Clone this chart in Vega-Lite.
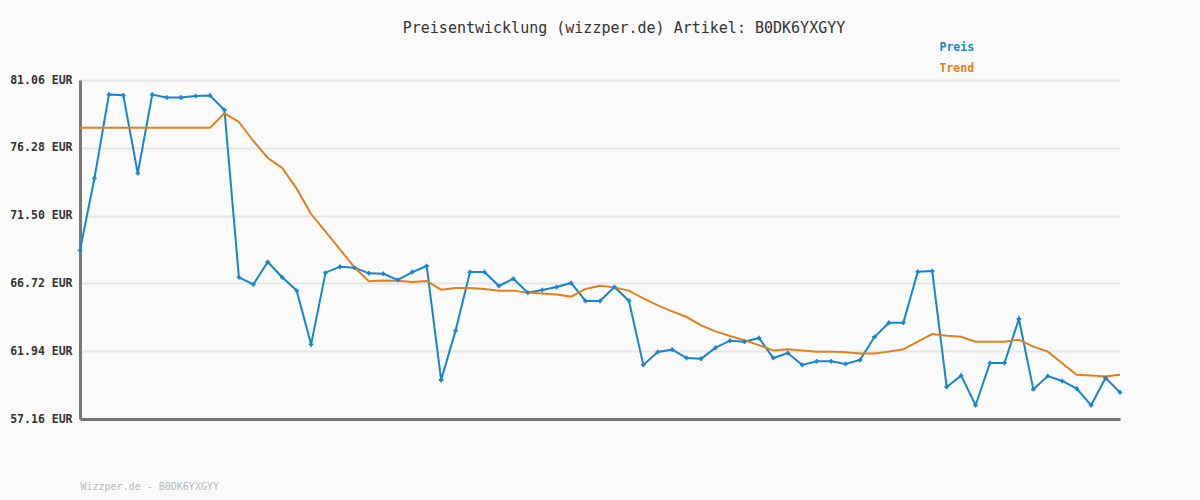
{
  "$schema": "https://vega.github.io/schema/vega-lite/v6.json",
  "width": 1040,
  "height": 339,
  "autosize": {"type": "none"},
  "padding": {"left": 80, "top": 80, "right": 80, "bottom": 81},
  "background": "#fafafa",
  "config": {"view": {"stroke": null}, "font": "DejaVu Sans Mono"},
  "title": {"text": "Preisentwicklung (wizzper.de) Artikel: B0DK6YXGYY", "font": "DejaVu Sans Mono", "fontSize": 15, "fontWeight": "normal", "color": "#333333", "anchor": "middle", "dx": 24, "offset": 6},
  "data": {"values": [
    {"i": 0, "Preis": 69.05, "Trend": 77.70},
    {"i": 1, "Preis": 74.13, "Trend": 77.70},
    {"i": 2, "Preis": 80.03, "Trend": 77.70},
    {"i": 3, "Preis": 79.98, "Trend": 77.70},
    {"i": 4, "Preis": 74.48, "Trend": 77.70},
    {"i": 5, "Preis": 80.03, "Trend": 77.70},
    {"i": 6, "Preis": 79.82, "Trend": 77.70},
    {"i": 7, "Preis": 79.82, "Trend": 77.70},
    {"i": 8, "Preis": 79.93, "Trend": 77.70},
    {"i": 9, "Preis": 79.96, "Trend": 77.70},
    {"i": 10, "Preis": 78.95, "Trend": 78.71},
    {"i": 11, "Preis": 67.15, "Trend": 78.10},
    {"i": 12, "Preis": 66.65, "Trend": 76.76},
    {"i": 13, "Preis": 68.23, "Trend": 75.56},
    {"i": 14, "Preis": 67.15, "Trend": 74.86},
    {"i": 15, "Preis": 66.21, "Trend": 73.40},
    {"i": 16, "Preis": 62.42, "Trend": 71.61},
    {"i": 17, "Preis": 67.48, "Trend": 70.37},
    {"i": 18, "Preis": 67.90, "Trend": 69.12},
    {"i": 19, "Preis": 67.83, "Trend": 67.85},
    {"i": 20, "Preis": 67.43, "Trend": 66.87},
    {"i": 21, "Preis": 67.40, "Trend": 66.92},
    {"i": 22, "Preis": 66.96, "Trend": 66.91},
    {"i": 23, "Preis": 67.52, "Trend": 66.82},
    {"i": 24, "Preis": 67.95, "Trend": 66.89},
    {"i": 25, "Preis": 59.91, "Trend": 66.28},
    {"i": 26, "Preis": 63.39, "Trend": 66.40},
    {"i": 27, "Preis": 67.52, "Trend": 66.40},
    {"i": 28, "Preis": 67.52, "Trend": 66.33},
    {"i": 29, "Preis": 66.54, "Trend": 66.21},
    {"i": 30, "Preis": 67.05, "Trend": 66.21},
    {"i": 31, "Preis": 66.07, "Trend": 66.07},
    {"i": 32, "Preis": 66.25, "Trend": 66.00},
    {"i": 33, "Preis": 66.47, "Trend": 65.93},
    {"i": 34, "Preis": 66.75, "Trend": 65.79},
    {"i": 35, "Preis": 65.48, "Trend": 66.33},
    {"i": 36, "Preis": 65.48, "Trend": 66.56},
    {"i": 37, "Preis": 66.47, "Trend": 66.44},
    {"i": 38, "Preis": 65.50, "Trend": 66.21},
    {"i": 39, "Preis": 60.97, "Trend": 65.67},
    {"i": 40, "Preis": 61.88, "Trend": 65.17},
    {"i": 41, "Preis": 62.05, "Trend": 64.75},
    {"i": 42, "Preis": 61.46, "Trend": 64.35},
    {"i": 43, "Preis": 61.41, "Trend": 63.76},
    {"i": 44, "Preis": 62.19, "Trend": 63.34},
    {"i": 45, "Preis": 62.68, "Trend": 63.01},
    {"i": 46, "Preis": 62.61, "Trend": 62.71},
    {"i": 47, "Preis": 62.87, "Trend": 62.37},
    {"i": 48, "Preis": 61.46, "Trend": 61.99},
    {"i": 49, "Preis": 61.81, "Trend": 62.07},
    {"i": 50, "Preis": 60.97, "Trend": 61.99},
    {"i": 51, "Preis": 61.23, "Trend": 61.91},
    {"i": 52, "Preis": 61.23, "Trend": 61.91},
    {"i": 53, "Preis": 61.04, "Trend": 61.86},
    {"i": 54, "Preis": 61.32, "Trend": 61.77},
    {"i": 55, "Preis": 62.94, "Trend": 61.77},
    {"i": 56, "Preis": 63.95, "Trend": 61.91},
    {"i": 57, "Preis": 63.95, "Trend": 62.07},
    {"i": 58, "Preis": 67.55, "Trend": 62.61},
    {"i": 59, "Preis": 67.59, "Trend": 63.15},
    {"i": 60, "Preis": 59.42, "Trend": 63.03},
    {"i": 61, "Preis": 60.22, "Trend": 62.96},
    {"i": 62, "Preis": 58.13, "Trend": 62.61},
    {"i": 63, "Preis": 61.11, "Trend": 62.61},
    {"i": 64, "Preis": 61.11, "Trend": 62.61},
    {"i": 65, "Preis": 64.21, "Trend": 62.75},
    {"i": 66, "Preis": 59.25, "Trend": 62.26},
    {"i": 67, "Preis": 60.19, "Trend": 61.91},
    {"i": 68, "Preis": 59.84, "Trend": 61.09},
    {"i": 69, "Preis": 59.30, "Trend": 60.28},
    {"i": 70, "Preis": 58.13, "Trend": 60.22},
    {"i": 71, "Preis": 60.05, "Trend": 60.15},
    {"i": 72, "Preis": 59.04, "Trend": 60.28}
  ]},
  "transform": [{"fold": ["Preis", "Trend"], "as": ["Serie", "Wert"]}],
  "encoding": {
    "x": {"field": "i", "type": "quantitative", "scale": {"domain": [0, 72], "nice": false, "zero": false},
      "axis": {"labels": false, "ticks": false, "grid": false, "domainColor": "#777777", "domainWidth": 3,
        "title": "Wizzper.de - B0DK6YXGYY", "titleAnchor": "start", "titleFont": "DejaVu Sans Mono", "titleFontSize": 10, "titleFontWeight": "normal", "titleColor": "#b8b8b8", "titlePadding": 62}},
    "y": {"field": "Wert", "type": "quantitative", "scale": {"domain": [57.16, 81.06], "nice": false, "zero": false},
      "axis": {"values": [57.16, 61.94, 66.72, 71.5, 76.28, 81.06], "labelExpr": "format(datum.value, '.2f') + ' EUR'",
        "ticks": false, "domainColor": "#777777", "domainWidth": 3, "gridColor": "#e6e6e6", "gridWidth": 2,
        "labelFont": "DejaVu Sans Mono", "labelFontSize": 11.5, "labelFontWeight": "bold", "labelColor": "#333333", "labelPadding": 8, "title": null}},
    "color": {"field": "Serie", "type": "nominal", "scale": {"domain": ["Preis", "Trend"], "range": ["#1884d0", "#e0801a"]},
      "legend": {"title": null, "orient": "none", "legendX": 848, "legendY": -38, "symbolSize": 0, "symbolStrokeWidth": 0, "symbolOpacity": 0, "labelOffset": 0, "rowPadding": 8,
        "labelFont": "DejaVu Sans Mono", "labelFontSize": 11.5, "labelFontWeight": "bold",
        "encode": {"labels": {"update": {"fill": {"scale": "color", "field": "value"}}}}}}
  },
  "layer": [
    {"mark": {"type": "line", "strokeWidth": 2, "clip": true}, "encoding": {"order": {"field": "i"}}},
    {"transform": [{"filter": "datum.Serie == 'Preis'"}], "mark": {"type": "point", "shape": "cross", "size": 20, "filled": true, "opacity": 1}}
  ]
}
